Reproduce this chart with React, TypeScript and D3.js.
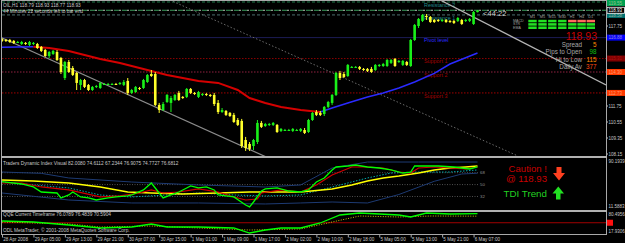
import React from "react";
import * as d3 from "d3";

const W = 625;
const H = 243;

// ---------- price candles (OIL, H1) ----------
const openP = [
  116.78, 116.70, 116.70, 116.63, 116.55, 116.40, 116.48, 116.33, 116.40, 116.40,
  116.18, 115.95, 115.50, 115.65, 115.80, 115.35, 113.85, 115.05, 114.60, 114.23,
  113.33, 113.70, 113.33, 112.95, 113.18, 113.10, 113.40, 113.40, 113.40, 113.40,
  113.40, 113.33, 113.63, 112.73, 112.80, 113.10, 113.10, 113.55, 114.15, 114.15,
  111.83, 111.45, 112.05, 111.98, 112.20, 112.73, 112.43, 112.43, 113.03, 112.73,
  112.43, 112.58, 112.65, 112.58, 112.58, 111.98, 111.30, 111.38, 111.23, 111.08,
  110.70, 110.63, 109.20, 108.90, 108.75, 109.05, 110.48, 110.25, 110.40, 110.33,
  110.33, 109.88, 109.95, 109.95, 109.88, 109.95, 109.88, 109.95, 109.80, 110.70,
  111.30, 111.23, 111.15, 111.68, 111.98, 112.58, 114.23, 114.15, 114.00, 114.68,
  114.68, 114.68, 114.53, 114.53, 114.53, 114.45, 114.75, 114.75, 114.75, 114.98,
  115.28, 115.05, 114.83, 115.05, 114.75, 116.70, 117.75, 118.13, 118.50, 118.43,
  118.20, 118.20, 118.13, 118.20, 118.13, 118.13, 118.13, 118.20, 118.13, 118.13,
  117.90, 118.79,
];
const highP = [
  116.85, 116.78, 116.78, 116.70, 116.63, 116.63, 116.55, 116.63, 116.55, 116.48,
  116.25, 116.03, 115.88, 115.95, 115.95, 115.43, 115.13, 115.20, 114.75, 114.30,
  113.78, 113.78, 113.40, 113.25, 113.33, 113.55, 113.48, 113.48, 113.48, 113.48,
  113.55, 113.70, 113.85, 113.03, 113.25, 113.18, 113.78, 114.15, 114.45, 114.30,
  111.98, 112.05, 112.65, 112.50, 112.65, 112.88, 112.50, 113.10, 113.10, 112.80,
  112.88, 112.73, 112.73, 112.65, 112.73, 112.20, 111.60, 111.45, 111.30, 111.23,
  110.85, 110.78, 109.43, 109.05, 109.28, 110.70, 110.63, 110.48, 110.48, 110.55,
  110.40, 110.10, 110.03, 110.03, 110.10, 110.03, 110.10, 110.10, 110.78, 111.30,
  111.45, 111.38, 111.75, 112.13, 112.65, 114.30, 114.38, 114.30, 114.90, 114.75,
  114.75, 114.75, 114.60, 114.60, 114.68, 114.90, 114.90, 114.98, 115.28, 115.28,
  115.35, 115.20, 115.20, 115.13, 116.78, 117.90, 118.35, 118.65, 118.65, 118.50,
  118.28, 118.28, 118.28, 118.28, 118.20, 118.20, 118.43, 118.28, 118.28, 118.35,
  118.88, 118.93,
];
const lowP = [
  116.55, 116.55, 116.48, 116.40, 116.48, 116.33, 116.33, 116.25, 116.33, 116.03,
  115.80, 115.43, 115.35, 115.58, 115.13, 114.15, 113.70, 114.23, 114.00, 112.95,
  112.95, 113.10, 112.88, 112.88, 113.10, 113.03, 113.33, 113.33, 113.33, 113.33,
  113.33, 113.25, 112.58, 112.65, 112.73, 112.95, 113.03, 113.48, 113.93, 111.75,
  111.23, 111.38, 111.98, 111.30, 112.13, 112.13, 112.28, 112.35, 112.65, 112.58,
  112.35, 112.50, 112.50, 112.43, 111.75, 111.15, 111.23, 111.00, 110.93, 110.48,
  110.25, 108.60, 108.38, 108.38, 108.45, 108.90, 110.10, 110.18, 110.25, 110.25,
  109.73, 109.80, 109.88, 109.88, 109.80, 109.88, 109.80, 109.65, 109.73, 110.63,
  111.00, 111.00, 111.00, 111.60, 111.83, 112.50, 113.70, 113.85, 113.93, 114.60,
  114.60, 114.45, 114.38, 114.30, 114.23, 114.38, 114.68, 114.68, 114.68, 114.90,
  114.68, 114.98, 114.75, 114.75, 114.68, 116.63, 117.60, 118.05, 118.20, 117.98,
  117.98, 118.05, 118.05, 117.98, 117.98, 117.90, 118.05, 117.83, 118.05, 118.05,
  117.83, 118.77,
];
const closeP = [
  116.63, 116.63, 116.55, 116.48, 116.55, 116.55, 116.40, 116.55, 116.48, 116.10,
  115.88, 115.50, 115.80, 115.88, 115.20, 114.30, 115.05, 114.30, 114.08, 113.48,
  113.70, 113.18, 112.95, 113.18, 113.25, 113.48, 113.40, 113.40, 113.40, 113.33,
  113.48, 113.55, 112.73, 112.95, 113.18, 113.03, 113.70, 114.08, 114.00, 111.83,
  111.45, 111.90, 112.58, 112.35, 112.58, 112.20, 112.35, 113.03, 112.73, 112.65,
  112.80, 112.65, 112.58, 112.50, 111.90, 111.30, 111.45, 111.08, 111.00, 110.55,
  110.33, 108.75, 108.60, 108.53, 109.20, 110.48, 110.18, 110.40, 110.40, 110.48,
  109.80, 110.03, 109.95, 109.95, 110.03, 109.95, 110.03, 109.73, 110.70, 111.23,
  111.08, 111.08, 111.68, 112.05, 112.58, 114.23, 113.85, 113.93, 114.83, 114.68,
  114.68, 114.53, 114.45, 114.38, 114.30, 114.83, 114.83, 114.90, 115.20, 115.20,
  114.75, 115.13, 115.13, 114.83, 116.70, 117.83, 118.28, 118.58, 118.43, 118.05,
  118.05, 118.13, 118.20, 118.05, 118.05, 117.98, 118.35, 117.90, 118.20, 118.28,
  118.80, 118.93,
];

// moving average [bar, price]
const maBlueStart = [[0, 116.15], [8, 116.2]];
const maRed = [[8, 116.2], [12, 116.1], [17, 115.88], [21, 115.58], [25, 115.28], [30, 114.98], [34, 114.68], [38, 114.38], [42, 114.08], [46, 113.85], [50, 113.63], [55, 113.48], [60, 112.95], [63, 112.35], [67, 111.98], [71, 111.68], [76, 111.45], [81, 111.3]];
const maBlueEnd = [[81, 111.3], [84, 111.6], [88, 111.98], [93, 112.43], [97, 112.73], [101, 113.1], [105, 113.55], [110, 114.2], [114, 114.9], [121, 115.73]];

// trend lines [bar, price]
const lowerTrend = [[-0.5, 116.93], [70, 107.56]];
const upperTrend = [[111.5, 119.7], [153.7, 113.33]];
const midTrend = [[42.7, 119.7], [131.3, 108.0]];

// pivot levels
const levelNames = ["Resistance 2", "Resistance 1", "Pivot level", "Support 1", "Support 2", "Support 3"];
const levelPrices = [119.55, 118.58, 116.88, 115.31, 114.3, 112.73];
const bidPrice = 118.93;

const priceTicks = [117.75, 116.55, 115.35, 114.15, 112.95, 111.75, 110.55, 109.35, 108.15];
const timeLabels = ["28 Apr 2008", "29 Apr 05:00", "29 Apr 13:00", "29 Apr 21:00", "30 Apr 07:00", "30 Apr 15:00", "1 May 01:00", "1 May 09:00", "1 May 17:00", "2 May 02:00", "2 May 10:00", "2 May 18:00", "5 May 05:00", "5 May 13:00", "5 May 21:00", "6 May 07:00"];

// dashboard
const tfLabels = ["M1", "M5", "M15", "M30", "H1", "H4", "D1"];
const sigRows = ["MACD", "STR", "EMA"];
const sigMatrix = [
  [1, 1, 1, 1, -1, -1, -1],
  [1, 1, 1, 1, 1, 1, 1],
  [1, 1, 1, 1, 1, 1, 1],
];
const infoLabels = ["Spread", "Pips to Open", "Hi to Low", "Daily Av"];
const infoValues = ["5", "98", "115", "377"];

// TDI [bar, value]
const tdiRsi = [[0, 54.4], [5, 50.9], [8, 46.4], [10, 38.8], [14, 37.3], [15, 29.7], [17, 34.3], [18, 38.8], [20, 31.3], [22, 29.8], [24, 26.7], [27, 29.8], [29, 31.3], [32, 32.8], [33, 34.3], [36, 41.9], [38, 52.4], [40, 37.3], [41, 29.8], [43, 34.3], [45, 38.8], [47, 44.9], [48, 47.9], [50, 44.9], [52, 46.4], [54, 41.9], [55, 34.3], [59, 31.3], [62, 19.2], [63, 16.2], [64, 23.7], [66, 40.3], [67, 43.4], [70, 44.9], [73, 40.3], [76, 38.8], [78, 41.9], [80, 53.9], [82, 60.0], [84, 72.1], [85, 76.6], [88, 78.1], [90, 79.6], [93, 76.6], [96, 75.1], [99, 72.1], [102, 67.5], [104, 69.0], [105, 78.1], [108, 78.1], [111, 78.1], [115, 76.6], [117, 75.1], [119, 73.6], [121, 76.6]];
const tdiSignal = [[0, 52.4], [5, 52.4], [10, 46.4], [17, 41.9], [25, 31.3], [30, 32.8], [35, 37.3], [38, 41.9], [41, 37.3], [45, 38.8], [50, 43.4], [55, 38.8], [59, 31.3], [62, 26.7], [65, 28.2], [66, 37.3], [71, 41.9], [76, 38.8], [80, 49.4], [84, 64.5], [89, 76.6], [93, 76.6], [97, 75.1], [101, 69.0], [104, 67.5], [106, 75.1], [110, 76.6], [114, 75.1], [118, 73.6], [121, 76.6]];
const tdiBase = [[0, 56.9], [8, 55.4], [17, 52.4], [25, 46.4], [32, 38.8], [38, 37.3], [46, 35.8], [55, 37.3], [63, 38.8], [71, 38.8], [76, 38.8], [84, 43.4], [89, 49.4], [93, 55.4], [97, 60.0], [101, 63.0], [106, 67.5], [110, 72.1], [114, 75.1], [118, 76.6], [121, 78.1]];
const tdiMid = [[0, 53.9], [8, 49.4], [17, 44.9], [25, 34.3], [33, 31.3], [42, 34.3], [50, 37.3], [59, 34.3], [67, 32.8], [76, 34.3], [84, 46.4], [93, 60.0], [99, 67.5], [106, 69.0], [114, 69.0], [121, 72.1]];
const tdiUpper = [[0, 69.0], [10, 67.0], [17, 60.0], [33, 53.9], [50, 49.4], [67, 46.4], [76, 49.4], [84, 75.1], [93, 84.1], [106, 84.1], [121, 84.1]];
const tdiLower = [[0, 37.3], [17, 26.7], [33, 22.2], [50, 22.2], [67, 20.7], [76, 22.2], [84, 23.7], [93, 22.2], [101, 35.0], [110, 55.0], [117, 66.0], [121, 67.2]];
const tdiLevels = [68, 50, 32];
const tdiHeader = "Traders Dynamic Index Visual 82.0080 74.6112 67.2344 76.9075 74.7727 76.6812";

// QQE [bar, value]
const qqeMain = [[0, 55.5], [8, 52.3], [17, 42.9], [25, 33.6], [33, 36.7], [38, 46.1], [42, 36.7], [50, 36.7], [59, 33.6], [63, 17.9], [67, 27.3], [71, 33.6], [76, 33.6], [81, 49.2], [86, 74.2], [91, 80.5], [101, 74.2], [104, 68.0], [108, 80.5], [114, 77.4], [121, 78.5]];
const qqeSignal = [[0, 52.3], [17, 46.1], [25, 36.7], [38, 39.8], [50, 33.6], [63, 27.3], [76, 30.5], [84, 52.3], [91, 71.1], [101, 68.0], [109, 71.1], [121, 70.6]];
const qqeHeader = "QQE Current Timeframe 76.0789 76.4839 70.5904";

const FONT = "Liberation Sans, Arial, sans-serif";
const BULL = "#19f019";
const BEAR = "#ffff2a";

export default function App() {
  const xS = d3.scaleLinear().domain([0, 121]).range([2, 477.5]);
  const yP = d3.scaleLinear().domain([108.15, 116.55]).range([154, 42]);
  const yT = d3.scaleLinear().domain([11.5883, 90.1939]).range([210, 158]);
  const yQ = d3.scaleLinear().domain([17.9306, 80.4956]).range([233, 213]);

  const lineP = d3.line<number[]>().x((d) => xS(d[0])).y((d) => yP(d[1]));
  const lineT = d3.line<number[]>().x((d) => xS(d[0])).y((d) => yT(d[1]));
  const lineQ = d3.line<number[]>().x((d) => xS(d[0])).y((d) => yQ(d[1]));

  const levelStyle = [
    { stroke: "#1f7a4a", dash: "3,2", box: "#00a050", text: "#208a8a" },
    { stroke: "#4d7070", dash: "3,2", box: "#007070", text: "#208a8a" },
    { stroke: "#1c1c55", dash: "", box: "#0000ff", text: "#2c2cff" },
    { stroke: "#8a0000", dash: "1.5,1.5", box: "#800000", text: "#a00000" },
    { stroke: "#902040", dash: "1.5,1.5", box: "#ff3a00", text: "#a00000" },
    { stroke: "#a00000", dash: "1.5,1.5", box: "#ff3a00", text: "#a00000" },
  ];
  const infoColors = ["#ff8c00", "#10c010", "#ff8c00", "#ff4a10"];
  const colX = [532.5, 542.5, 552.3, 562.3, 572.3, 581.6, 590.8];

  // axis ticks that are hidden behind a level box are not drawn (as in the reference)
  const boxYs = levelPrices.map((p) => yP(p));
  const visibleTicks = priceTicks.filter((p) => boxYs.every((by) => Math.abs(yP(p) - by) > 6));

  return (
    <svg
      width={W}
      height={H}
      style={{ position: "absolute", left: 0, top: 0, display: "block" }}
      fontFamily={FONT}
    >
      <defs>
        <clipPath id="cMain">
          <rect x={2} y={1} width={604} height={155} />
        </clipPath>
        <clipPath id="cTdi">
          <rect x={2} y={158} width={604} height={52} />
        </clipPath>
        <clipPath id="cQqe">
          <rect x={2} y={212} width={604} height={22} />
        </clipPath>
      </defs>
      <rect x={0} y={0} width={W} height={H} fill="#000" />

      {/* ---------------- main price panel ---------------- */}
      <g clipPath="url(#cMain)">
        {levelPrices.map((p, k) => (
          <line key={"lv" + k} x1={2} x2={606} y1={yP(p)} y2={yP(p)} stroke={levelStyle[k].stroke} strokeWidth={1} strokeDasharray={levelStyle[k].dash || undefined} />
        ))}
        {/* bid line */}
        <line x1={2} x2={606} y1={yP(bidPrice)} y2={yP(bidPrice)} stroke="#3a9a5a" strokeWidth={1} strokeDasharray="5,3" />
        <line x1={2} x2={606} y1={yP(bidPrice)} y2={yP(bidPrice)} stroke="#b8c8b8" strokeWidth={1} strokeDasharray="2,6" strokeDashoffset={-5} />
        {levelNames.map((n, k) => (
          <text key={"ln" + k} x={424} y={yP(levelPrices[k]) + 4.8} fontSize={5.4} fill={levelStyle[k].text}>{n}</text>
        ))}

        <path d={lineP(lowerTrend) || ""} stroke="#8c8c8c" strokeWidth={1.2} fill="none" />
        <path d={lineP(upperTrend) || ""} stroke="#b4b4b4" strokeWidth={1.2} fill="none" />
        <path d={lineP(midTrend) || ""} stroke="#6a6a6a" strokeWidth={1} strokeDasharray="1.5,2" fill="none" />

        <path d={lineP(maBlueStart) || ""} stroke="#2a2aff" strokeWidth={1.5} fill="none" />
        <path d={lineP(maRed) || ""} stroke="#d40000" strokeWidth={2} fill="none" />
        <path d={lineP(maBlueEnd) || ""} stroke="#2a2aff" strokeWidth={1.5} fill="none" />

        {openP.map((o, i) => {
          const c = closeP[i];
          const up = c >= o;
          const col = up ? BULL : BEAR;
          const x = xS(i);
          const yTop = yP(Math.max(o, c));
          const yBot = yP(Math.min(o, c));
          return (
            <g key={"c" + i}>
              <line x1={x} x2={x} y1={yP(highP[i])} y2={yP(lowP[i])} stroke={col} strokeWidth={1} />
              <rect x={x - 1.3} y={yTop} width={2.6} height={Math.max(1, yBot - yTop)} fill={col} />
            </g>
          );
        })}
      </g>

      <text x={3} y={7} fontSize={4.8} fill="#c8c8c8">{"OIL,H1  118.79 118.93 118.77 118.93"}</text>
      <text x={3} y={12.6} fontSize={4.8} fill="#c8c8c8">44 Minutes 22 seconds left to bar end</text>
      <text x={483} y={15.5} fontSize={7.6} fill="#d0d0d0">{"<44:22"}</text>

      {/* dashboard */}
      {tfLabels.map((t, j) => (
        <text key={"tf" + j} x={colX[j]} y={17.6} fontSize={3.8} fill="#a0a0a0" textAnchor="middle">{t}</text>
      ))}
      {sigRows.map((r, k) => (
        <g key={"sr" + k}>
          <text x={513} y={22 + k * 3.4} fontSize={3.6} fill="#a0a0a0">{r}</text>
          {sigMatrix[k].map((s, j) => (
            <rect key={j} x={colX[j] - 4.2} y={19.8 + k * 3.35} width={8.4} height={2.5} fill={s > 0 ? "#22e022" : "#ff6a5a"} />
          ))}
        </g>
      ))}
      <text x={597} y={39.5} fontSize={10.5} fill="#c80000" textAnchor="end">118.93</text>
      {infoLabels.map((l, k) => (
        <g key={"in" + k}>
          <text x={582} y={46.5 + k * 7.5} fontSize={6.3} fill="#a8a8a8" textAnchor="end">{l}</text>
          <text x={596.5} y={46.5 + k * 7.5} fontSize={6.3} fill={infoColors[k]} textAnchor="end">{infoValues[k]}</text>
        </g>
      ))}

      {/* right price axis */}
      {visibleTicks.map((p) => (
        <g key={"pt" + p}>
          <line x1={606} x2={608} y1={yP(p)} y2={yP(p)} stroke="#c0c0c0" />
          <text x={608.5} y={yP(p) + 1.6} fontSize={4.5} fill="#c8c8c8">{p.toFixed(2)}</text>
        </g>
      ))}
      {levelPrices.map((p, k) => (
        <g key={"lb" + k}>
          <rect x={607} y={Math.max(0, yP(p) - 3)} width={18} height={6} fill={levelStyle[k].box} />
          <text x={608.5} y={Math.max(0, yP(p) - 3) + 4.6} fontSize={4.5} fill={k === 3 ? "#d02020" : "#ffe0c0"} opacity={0.55}>{p.toFixed(2)}</text>
        </g>
      ))}
      <rect x={607} y={yP(bidPrice) - 3} width={17.5} height={6} fill="#000" stroke="#ffffff" strokeWidth={0.8} />
      <text x={608.5} y={yP(bidPrice) + 1.7} fontSize={4.5} fill="#ffffff">{bidPrice.toFixed(2)}</text>

      {/* ---------------- TDI panel ---------------- */}
      <g clipPath="url(#cTdi)">
        {tdiLevels.map((v) => (
          <line key={"tl" + v} x1={2} x2={478} y1={yT(v)} y2={yT(v)} stroke="#505050" strokeDasharray="1,1.5" />
        ))}
        <path d={lineT(tdiUpper) || ""} stroke="#1d3a72" strokeWidth={1} fill="none" />
        <path d={lineT(tdiLower) || ""} stroke="#1d3a72" strokeWidth={1} fill="none" />
        <path d={lineT(tdiMid) || ""} stroke="#00a8a8" strokeWidth={1} strokeDasharray="1.5,1.5" fill="none" />
        <path d={lineT(tdiBase) || ""} stroke="#ffff00" strokeWidth={1.6} fill="none" />
        <path d={lineT(tdiSignal) || ""} stroke="#d00000" strokeWidth={1.2} fill="none" />
        <path d={lineT(tdiRsi) || ""} stroke="#00ff00" strokeWidth={1.3} fill="none" />
      </g>
      {tdiLevels.map((v) => (
        <text key={"tlt" + v} x={480} y={yT(v) + 1.6} fontSize={4.3} fill="#909090">{v}</text>
      ))}
      <text x={3} y={164.5} fontSize={4.8} fill="#c8c8c8">{tdiHeader}</text>
      <text x={547} y={172} fontSize={9.6} fill="#c80000" textAnchor="end">Caution !</text>
      <text x={547} y={182} fontSize={9.6} fill="#c80000" textAnchor="end">@ 118.93</text>
      <text x={547} y={197} fontSize={9.8} fill="#22d022" textAnchor="end">TDI Trend</text>
      <path d="M556.5,167 L561.5,167 L561.5,173 L565,173 L559,180.5 L553,173 L556.5,173 Z" fill="#ff4020" />
      <path d="M556,199.5 L560.5,199.5 L560.5,193.5 L564,193.5 L558.3,186.5 L552.5,193.5 L556,193.5 Z" fill="#22e022" />
      <text x={608.5} y={162.6} fontSize={4.5} fill="#c8c8c8">90.1939</text>
      <text x={608.5} y={208.4} fontSize={4.5} fill="#c8c8c8">11.5883</text>

      {/* ---------------- QQE panel ---------------- */}
      <g clipPath="url(#cQqe)">
        <line x1={2} x2={606} y1={yQ(50)} y2={yQ(50)} stroke="#a00000" strokeWidth={1} />
        <path d={lineQ(qqeSignal) || ""} stroke="#c8c800" strokeWidth={1} strokeDasharray="1,1.5" fill="none" />
        <path d={lineQ(qqeMain) || ""} stroke="#00ff00" strokeWidth={1.3} fill="none" />
      </g>
      <text x={3} y={216} fontSize={4.8} fill="#c8c8c8">{qqeHeader}</text>
      <text x={3} y={232} fontSize={4.8} fill="#c8c8c8">ODL MetaTrader, © 2001-2008 MetaQuotes Software Corp.</text>
      <rect x={607} y={yQ(50) - 3} width={6} height={6} fill="#ff1010" />
      <text x={608.5} y={216.2} fontSize={4.5} fill="#c8c8c8">80.4956</text>
      <text x={608.5} y={233} fontSize={4.5} fill="#c8c8c8">17.9306</text>

      {/* ---------------- frame ---------------- */}
      <line x1={1.5} x2={1.5} y1={0} y2={235} stroke="#a8a8a8" />
      <line x1={606.5} x2={606.5} y1={0} y2={235} stroke="#a8a8a8" />
      <line x1={1} x2={607} y1={0.5} y2={0.5} stroke="#a8a8a8" />
      <rect x={1} y={156} width={606} height={2} fill="#b0b0b0" />
      <rect x={1} y={210} width={606} height={2} fill="#b0b0b0" />
      <line x1={1} x2={607} y1={234.5} y2={234.5} stroke="#a8a8a8" />

      {/* time axis */}
      {timeLabels.map((t, k) => (
        <g key={"ta" + k}>
          <line x1={xS(k * 8) + 0.5} x2={xS(k * 8) + 0.5} y1={235} y2={237.5} stroke="#a8a8a8" />
          <text x={xS(k * 8) + 1.2} y={241.3} fontSize={4.6} fill="#c8c8c8">{t}</text>
        </g>
      ))}
    </svg>
  );
}
